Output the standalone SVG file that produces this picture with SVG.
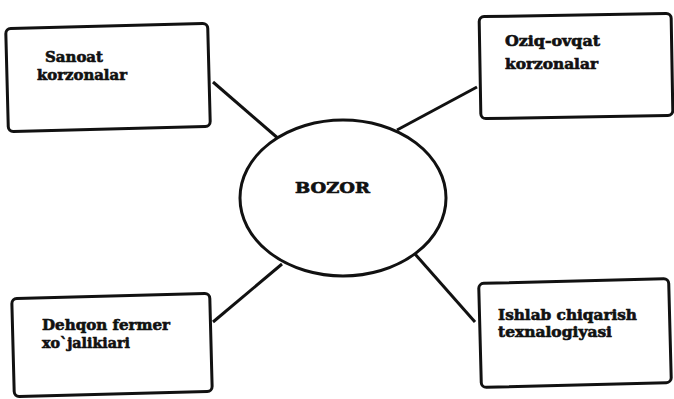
<svg xmlns="http://www.w3.org/2000/svg" width="674" height="399" viewBox="0 0 674 399">
<style>
.box{fill:#fff;stroke:#111;stroke-width:3}
.lbl{font-family:"DejaVu Serif","Liberation Serif",serif;font-weight:bold;font-size:14.5px;fill:#111;stroke:#111;stroke-width:0.6}
.conn{stroke:#111;stroke-width:3;fill:none}
</style>
<rect width="674" height="399" fill="#fff"/>
<g id="connectors">
<line class="conn" x1="213" y1="82" x2="280" y2="140"/>
<line class="conn" x1="477" y1="87" x2="397" y2="130"/>
<line class="conn" x1="213" y1="322" x2="282" y2="264"/>
<line class="conn" x1="415" y1="254" x2="475" y2="322"/>
</g>
<g id="bozor">
<ellipse cx="343" cy="198" rx="103" ry="78" fill="#fff" stroke="#111" stroke-width="3"/>
<text class="lbl" x="295" y="193" font-size="18" textLength="75" lengthAdjust="spacingAndGlyphs">BOZOR</text>
</g>
<g id="sanoat">
<rect class="box" x="7" y="26" width="202" height="103" rx="5" transform="rotate(-1.5 108 77)"/>
<text class="lbl" x="45" y="62" textLength="58" lengthAdjust="spacingAndGlyphs">Sanoat</text>
<text class="lbl" x="37" y="80" textLength="90" lengthAdjust="spacingAndGlyphs">korzonalar</text>
</g>
<g id="oziq">
<rect class="box" x="480" y="15" width="192" height="102" rx="5" transform="rotate(-1 576 66)"/>
<text class="lbl" x="505" y="46" textLength="95" lengthAdjust="spacingAndGlyphs">Oziq-ovqat</text>
<text class="lbl" x="505" y="69" textLength="93" lengthAdjust="spacingAndGlyphs">korzonalar</text>
</g>
<g id="dehqon">
<rect class="box" x="13" y="296" width="198" height="98" rx="5" transform="rotate(-1.5 112 345)"/>
<text class="lbl" x="42" y="330" textLength="128" lengthAdjust="spacingAndGlyphs">Dehqon fermer</text>
<text class="lbl" x="42" y="348" textLength="88" lengthAdjust="spacingAndGlyphs">xo`jalikiari</text>
</g>
<g id="ishlab">
<rect class="box" x="480" y="281" width="190" height="104" rx="5" transform="rotate(-1.5 575 333)"/>
<text class="lbl" x="498" y="320" textLength="139" lengthAdjust="spacingAndGlyphs">Ishlab chiqarish</text>
<text class="lbl" x="498" y="337" textLength="114" lengthAdjust="spacingAndGlyphs">texnalogiyasi</text>
</g>
</svg>
